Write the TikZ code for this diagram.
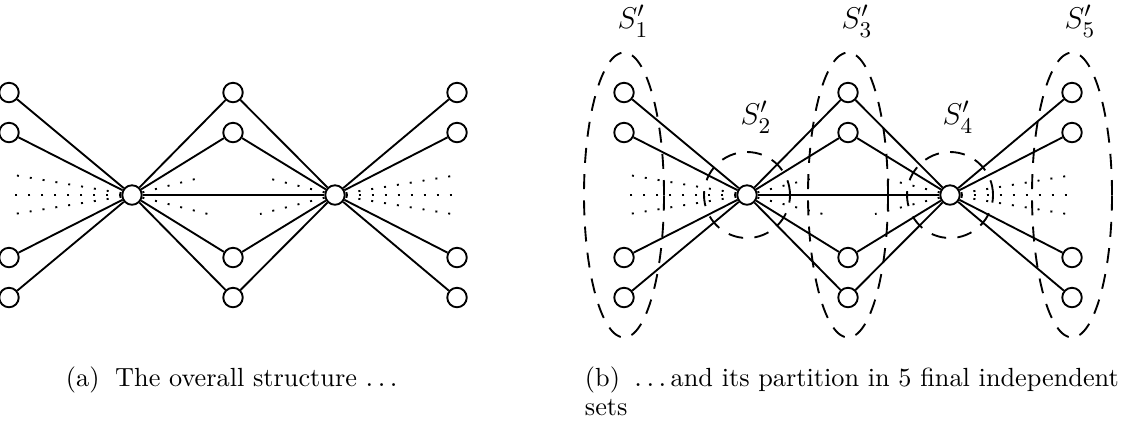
\documentclass[tikz,border=0pt]{standalone}
\usepackage{amsmath,amssymb}
\usepackage{tikz}
\usetikzlibrary{positioning}

\begin{document}
\begin{tikzpicture}[x=0.4pt, y=-0.4pt, line width=0.75pt,
      vtx/.style={circle, draw, fill=white, inner sep=0pt, minimum size=7.8pt},
      far/.style={dash pattern=on 0.8pt off 4.4pt},
      part/.style={dash pattern=on 6pt off 4.5pt},
      setlab/.style={font=\fontsize{13}{15}\selectfont, inner sep=0pt},
      subcap/.style={font=\fontsize{10.5}{11.6}\selectfont, inner sep=0pt, anchor=base west}]
    \useasboundingbox (0,0) rectangle (1125,429);
    \foreach \p/\ox in {a/0,b/615} {
      \node[vtx] (\p h1) at (\ox+132, 195) {};
      \node[vtx] (\p h2) at (\ox+335, 195) {};
      \foreach \k/\y in {1/92.5,2/132.5,3/257.5,4/297.5} {
        \node[vtx] (\p l\k) at (\ox+9, \y) {};
        \node[vtx] (\p m\k) at (\ox+233, \y) {};
        \node[vtx] (\p r\k) at (\ox+457, \y) {};
        \draw (\p l\k) -- (\p h1);
        \draw (\p m\k) -- (\p h1);
        \draw (\p m\k) -- (\p h2);
        \draw (\p r\k) -- (\p h2);
      }
      \draw (\p h1) -- (\p h2);
      \foreach \k/\x/\y in {1/8/174,2/8/195,3/8/215,4/203/177,5/212/215} {
        \coordinate (\p dl\k) at (\ox+\x, \y);
        \draw[far] (\p h1) -- (\p dl\k);
      }
      \foreach \k/\x/\y in {1/458/175,2/458/195,3/458/215,4/263/177,5/260/214} {
        \coordinate (\p dr\k) at (\ox+\x, \y);
        \draw[far] (\p h2) -- (\p dr\k);
      }
    }
    \foreach \c in {624,848,1072}
      \draw[part] (\c, 195) ellipse [x radius=16pt, y radius=57pt];
    \draw[part] (bh1) circle [radius=17.2pt];
    \draw[part] (bh2) circle [radius=17.2pt];
    \node[setlab] (s1) at (633, 21) {$S'_1$};
    \node[setlab] (s2) at (756, 117) {$S'_2$};
    \node[setlab] (s3) at (857, 21) {$S'_3$};
    \node[setlab] (s4) at (958, 117) {$S'_4$};
    \node[setlab] (s5) at (1080, 21) {$S'_5$};
    \node[subcap] (capa) at (65, 386)
      {(a)\hspace{0.6em}The overall structure $\ldots$};
    \node[subcap, align=left] (capb) at (584, 415)
      {(b)\hspace{0.55em}$\ldots$\,and its partition in 5 final independent\\sets};
  \end{tikzpicture}
\end{document}
